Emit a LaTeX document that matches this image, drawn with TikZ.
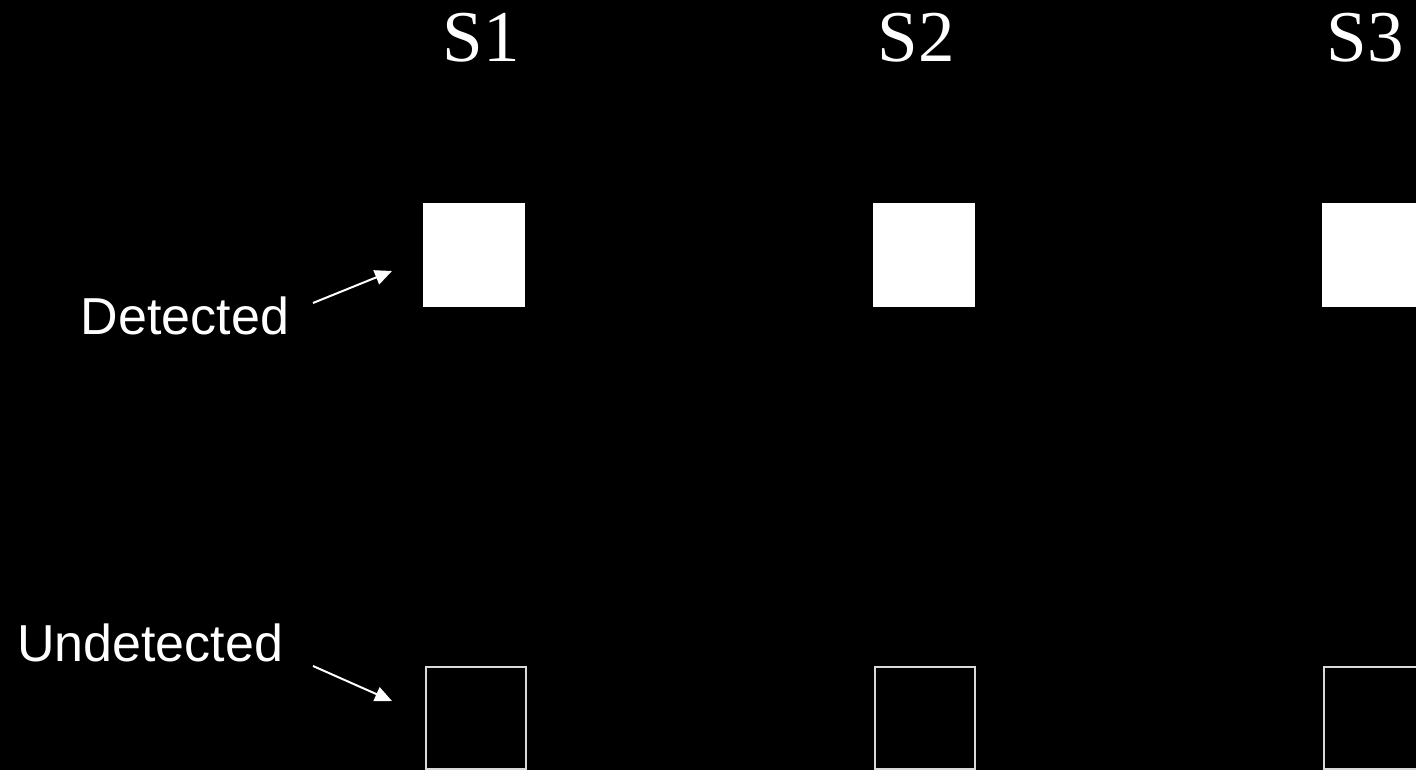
\documentclass[tikz,border=0pt]{standalone}
\usepackage{fontspec}
\setmainfont{Liberation Serif}
\newfontfamily\arialfont{Liberation Sans}
\usetikzlibrary{arrows.meta}
\tikzset{
  hdr/.style={text=white, inner sep=0pt, anchor=base, font=\fontsize{73}{80}\selectfont},
  lbl/.style={text=white, inner sep=0pt, anchor=base, font=\arialfont\fontsize{52}{60}\selectfont},
  detbox/.style={fill=white, draw=none, inner sep=0pt, minimum width=102pt, minimum height=104pt, anchor=north west},
  undbox/.style={fill=none, draw=white!85!black, line width=2pt, inner sep=0pt, minimum width=100pt, minimum height=102pt, anchor=north west},
  ptr/.style={draw=white, line width=2pt, -{Triangle[length=17pt,width=15pt]}}
}
\begin{document}
\begin{tikzpicture}[x=1pt,y=-1pt]
\fill[black] (0,0) rectangle (1416,770);
\useasboundingbox (0,0) rectangle (1416,770);
\clip (0,0) rectangle (1416,770);
\node[hdr] (s1) at (481,62) {S1};
\node[hdr] (s2) at (916,62) {S2};
\node[hdr] (s3) at (1365,62) {S3};
\node[detbox] (d1) at (423,203) {};
\node[detbox] (d2) at (873,203) {};
\node[detbox] (d3) at (1322,203) {};
\node[undbox] (u1) at (424.5,666) {};
\node[undbox] (u2) at (873.5,666) {};
\node[undbox] (u3) at (1322.5,666) {};
\node[lbl] (det) at (185,334) {Detected};
\node[lbl] (und) at (150,661) {Undetected};
\coordinate (dt) at (313,303);
\coordinate (dh) at (392,271);
\coordinate (ut) at (313,666);
\coordinate (uh) at (392,701);
\draw[ptr] (dt) -- (dh);
\draw[ptr] (ut) -- (uh);
\end{tikzpicture}
\end{document}
